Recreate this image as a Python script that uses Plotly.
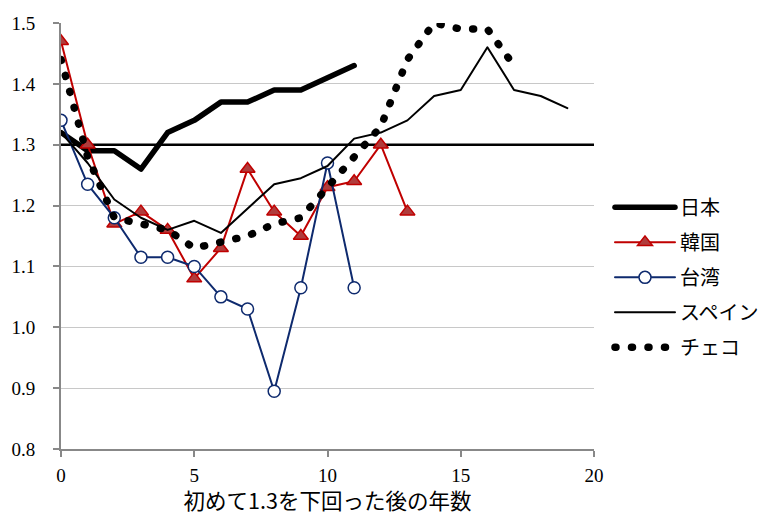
import plotly.graph_objects as go

# Years elapsed since TFR first fell below 1.3 (x = 0 is the year before)
japan_x = list(range(0, 12))
japan = [1.32, 1.29, 1.29, 1.26, 1.32, 1.34, 1.37, 1.37, 1.39, 1.39, 1.41, 1.43]

korea_x = list(range(0, 14))
korea = [1.47, 1.30, 1.17, 1.19, 1.16, 1.08, 1.13, 1.26, 1.19, 1.15, 1.23, 1.24, 1.30, 1.19]

taiwan_x = list(range(0, 12))
taiwan = [1.34, 1.235, 1.18, 1.115, 1.115, 1.10, 1.05, 1.03, 0.895, 1.065, 1.27, 1.065]

spain_x = list(range(0, 20))
spain = [1.32, 1.27, 1.21, 1.18, 1.16, 1.175, 1.155, 1.195, 1.235, 1.245, 1.265,
         1.31, 1.32, 1.34, 1.38, 1.39, 1.46, 1.39, 1.38, 1.36]

czech_x = list(range(0, 18))
czech = [1.44, 1.28, 1.18, 1.17, 1.16, 1.13, 1.14, 1.15, 1.17, 1.18, 1.23, 1.28,
         1.33, 1.44, 1.50, 1.49, 1.49, 1.43]

THRESHOLD = 1.3
X_RANGE = [0, 20]
Y_RANGE = [0.8, 1.5]
X_TICKS = [0, 5, 10, 15, 20]
Y_TICKS = [0.8, 0.9, 1.0, 1.1, 1.2, 1.3, 1.4, 1.5]

SERIF = "Liberation Serif, Times New Roman, serif"
JP = "Noto Sans CJK JP, sans-serif"

fig = go.Figure()

fig.add_trace(go.Scatter(
    x=japan_x, y=japan, name="日本", mode="lines",
    line=dict(color="black", width=5.5), legendgroup="a"))
fig.add_trace(go.Scatter(
    x=korea_x, y=korea, name="韓国", mode="lines+markers",
    line=dict(color="#C00000", width=2),
    marker=dict(symbol="triangle-up", size=13, color="#B03C3C",
                line=dict(color="#C00000", width=1.5)), legendgroup="b"))
fig.add_trace(go.Scatter(
    x=taiwan_x, y=taiwan, name="台湾", mode="lines+markers",
    line=dict(color="#0E2A6E", width=2),
    marker=dict(symbol="circle", size=12, color="white",
                line=dict(color="#0E2A6E", width=1.5)), legendgroup="c"))
fig.add_trace(go.Scatter(
    x=spain_x, y=spain, name="スペイン", mode="lines",
    line=dict(color="black", width=2), legendgroup="d"))
fig.add_trace(go.Scatter(
    x=czech_x, y=czech, name="チェコ", mode="lines",
    line=dict(color="black", width=7.5, dash="1px,15.5px"), legendgroup="e"))

fig.add_shape(type="line", xref="x", yref="y", x0=X_RANGE[0], x1=X_RANGE[1],
              y0=THRESHOLD, y1=THRESHOLD, line=dict(color="black", width=2.5),
              layer="between")

fig.update_layout(
    width=760, height=515,
    margin=dict(l=61, r=166, t=23, b=66, autoexpand=False),
    paper_bgcolor="white", plot_bgcolor="white",
    showlegend=True,
    legend=dict(x=1.03, y=0.613, xanchor="left", yanchor="top",
                font=dict(family=JP, size=20, color="black"),
                traceorder="grouped", tracegroupgap=6, itemwidth=60,
                bgcolor="rgba(0,0,0,0)"),
    xaxis=dict(range=X_RANGE, tickvals=X_TICKS, showgrid=False, zeroline=False,
               showline=True, linecolor="#888888", linewidth=2,
               ticks="outside", ticklen=6, tickcolor="#888888", tickwidth=1.5,
               ticklabelstandoff=2,
               tickfont=dict(family=SERIF, size=19, color="black"),
               title=dict(text="初めて1.3を下回った後の年数",
                          font=dict(family=JP, size=21.5, color="black"), standoff=11)),
    yaxis=dict(range=Y_RANGE, tickvals=Y_TICKS, tickformat=".1f",
               showgrid=True, gridcolor="#C8C8C8", gridwidth=1.2, zeroline=False,
               showline=True, linecolor="#888888", linewidth=2,
               ticks="outside", ticklen=6, tickcolor="#888888", tickwidth=1.5,
               ticklabelstandoff=14,
               tickfont=dict(family=SERIF, size=19, color="black")),
)

# Round line caps so the dotted series is drawn as round dots
post = """
document.querySelectorAll('path.js-line').forEach(function(p){
  p.style.strokeLinecap = 'round';
  p.style.strokeLinejoin = 'round';
});
"""

fig.write_html("out.html", post_script=post)
